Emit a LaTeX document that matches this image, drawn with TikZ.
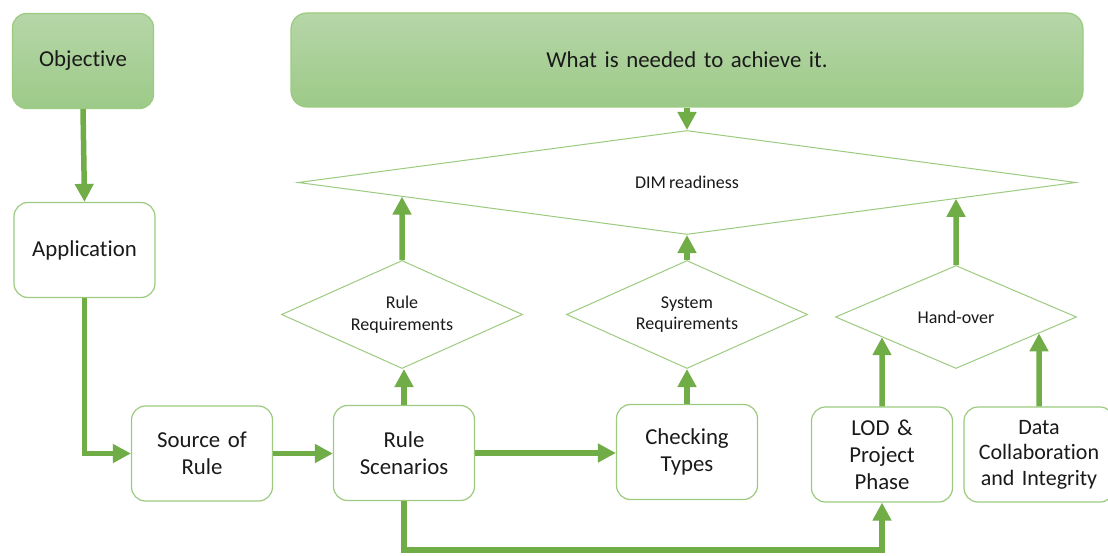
\documentclass[tikz,border=0pt]{standalone}
\usepackage{fontspec}
\setmainfont{Carlito}[Ligatures=NoCommon, WordSpace=0.75]
\usetikzlibrary{arrows.meta,shapes.geometric}
\definecolor{arrowgreen}{HTML}{70AD47}
\definecolor{boxline}{HTML}{9CCB80}
\definecolor{gradtop}{HTML}{B6D6A8}
\definecolor{gradbot}{HTML}{9DCA88}
\definecolor{txt}{HTML}{1A1A1A}
\tikzset{
  plainbox/.style={draw=boxline, line width=1.2pt, fill=white, rounded corners=14pt,
    minimum width=141pt, minimum height=95pt, inner sep=2pt, align=center,
    text width=136pt, font=\fontsize{22.8}{27}\selectfont, text=txt},
  greenbox/.style={plainbox, top color=gradtop, bottom color=gradbot},
  decision/.style={diamond, draw=boxline, line width=1pt, fill=white, inner sep=0pt,
    align=center, font=\fontsize{18}{21.5}\selectfont, text=txt},
  flow/.style={draw=arrowgreen, line width=5.5pt, -{Triangle[length=18pt,width=18pt]}},
}
\begin{document}
\begin{tikzpicture}[x=1pt,y=-1pt]
\clip (0,0) rectangle (1108,556);
\fill[white] (0,0) rectangle (1108,556);
% boxes
\node[greenbox] (obj) at (83,61) {Objective};
\node[greenbox, minimum width=792pt, minimum height=94pt, rounded corners=16pt, text width=700pt] (what) at (687,60) {What is needed to achieve it.};
\node[plainbox] (app) at (84.5,250) {Application};
\node[plainbox] (src) at (202,453.5) {Source of\\Rule};
\node[plainbox] (rs) at (404,453) {Rule\\Scenarios};
\node[plainbox] (ct) at (687,452) {Checking\\Types};
\node[plainbox] (lod) at (882,454.5) {LOD \&\\Project\\Phase};
\node[plainbox, minimum width=150pt, text width=146pt, font=\fontsize{22}{25.5}\selectfont] (dc) at (1039,454.5) {Data\\Collaboration\\and Integrity};
% decisions
\node[decision, aspect=7.4, minimum width=778pt, minimum height=104pt] (dim) at (687,182.5) {DIM readiness};
\node[decision, aspect=2.2, minimum width=241pt, minimum height=108pt] (rr) at (402,314.5) {Rule\\Requirements};
\node[decision, aspect=2.2, minimum width=241pt, minimum height=108pt] (sr) at (687,314.5) {System\\Requirements};
\node[decision, aspect=2.3, minimum width=241pt, minimum height=103pt] (ho) at (956,317) {Hand-over};
% connectors
\draw[flow] (obj.south) -- (app.north);
\draw[flow] (app.south) |- (src.west);
\draw[flow] (src.east) -- (src.east -| rs.west);
\draw[flow] (rs.east) -- (rs.east -| ct.west);
\draw[flow] (rs.north) -- (rs.north |- rr.south);
\draw[flow] (ct.north) -- (sr.south);
\draw[flow] (what.south) -- (dim.north);
\draw[flow] (sr.north) -- (dim.south);
\draw[flow] (rr.north) -- (intersection of rr.north--rr.south and dim.west--dim.south);
\draw[flow] (ho.north) -- (intersection of ho.north--ho.south and dim.south--dim.east);
\draw[flow] (lod.north) -- (intersection of lod.north--lod.south and ho.west--ho.south);
\draw[flow] (dc.north) -- (intersection of dc.north--dc.south and ho.south--ho.east);
\draw[flow] (rs.south) -- ++(0,49) -| (lod.south);
\end{tikzpicture}
\end{document}
